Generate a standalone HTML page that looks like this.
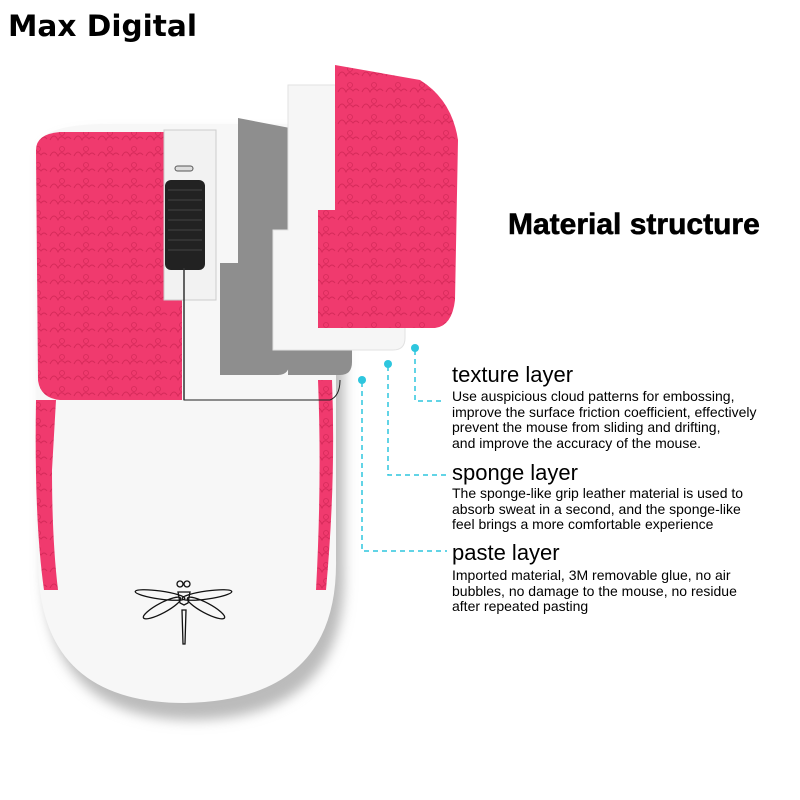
<!DOCTYPE html>
<html><head><meta charset="utf-8"><style>
body{margin:0;width:800px;height:800px;background:#fff;overflow:hidden;position:relative;font-family:"Liberation Sans",sans-serif}
.t{position:absolute;color:#000;white-space:nowrap}
</style></head><body>
<svg width="800" height="800" style="position:absolute;left:0;top:0">
<defs>
<filter id="sh" x="-20%" y="-20%" width="140%" height="140%"><feGaussianBlur stdDeviation="6"/></filter>
<pattern id="cl" width="24" height="16" patternUnits="userSpaceOnUse">
<rect width="24" height="16" fill="#f03a6e"/>
<path d="M2 12 q4 -8 8 0 q3 -6 7 -1 q3 -4 6 0" fill="none" stroke="#d62a5a" stroke-width="1"/>
<circle cx="14" cy="5" r="2.5" fill="none" stroke="#d62a5a" stroke-width="0.8"/>
</pattern>
</defs>
<path d="M40 150 Q40 128 100 126 L300 126 Q340 130 340 200 L340 560 Q345 710 190 712 Q40 712 40 560 Z" fill="#bbb" filter="url(#sh)" transform="translate(4,8)"/>
<path d="M36 150 Q36 126 100 124 L300 124 Q336 130 336 200 L336 560 Q338 700 185 703 Q38 703 38 560 Z" fill="#f7f7f7"/>
<path d="M36 150 Q36 134 60 132 L182 132 L182 400 L60 400 Q40 398 38 380 Z" fill="url(#cl)"/>
<path d="M36 400 L56 400 L52 470 Q52 540 58 590 L44 590 Q34 520 36 400Z" fill="url(#cl)"/>
<path d="M318 380 L332 380 Q336 480 326 590 L316 590 Q322 480 318 380Z" fill="url(#cl)"/>
<path d="M184 380 L184 400 L330 400 Q340 396 340 380" fill="none" stroke="#222" stroke-width="1"/>
<rect x="164" y="130" width="52" height="170" fill="#f2f2f2" stroke="#ccc"/>
<rect x="175" y="166" width="18" height="5" rx="2.5" fill="#ddd" stroke="#555" stroke-width="1"/>
<rect x="165" y="180" width="40" height="90" rx="6" fill="#222"/>
<g stroke="#444" stroke-width="1"><line x1="168" y1="190" x2="202" y2="190"/><line x1="168" y1="200" x2="202" y2="200"/><line x1="168" y1="210" x2="202" y2="210"/><line x1="168" y1="220" x2="202" y2="220"/><line x1="168" y1="230" x2="202" y2="230"/><line x1="168" y1="240" x2="202" y2="240"/><line x1="168" y1="250" x2="202" y2="250"/></g>
<line x1="184" y1="268" x2="184" y2="400" stroke="#333" stroke-width="1.5"/>
<path d="M238 118 L290 128 L290 360 Q290 375 278 375 L220 375 L220 263 L238 263 Z" fill="#8e8e8e"/>
<path d="M290 140 L352 140 L352 362 Q352 375 340 375 L288 375 Z" fill="#8e8e8e"/>
<path d="M288 85 L340 85 L405 92 L405 338 Q405 350 393 350 L273 350 L273 230 L288 230 Z" fill="#f6f6f6" stroke="#e2e2e2"/>
<path d="M335 65 L420 80 Q452 100 458 140 L455 300 Q452 326 435 328 L318 328 L318 210 L335 210 Z" fill="url(#cl)"/>
<g fill="none" stroke="#111" stroke-width="1.3">
<circle cx="180" cy="584" r="3"/><circle cx="187" cy="584" r="3"/>
<path d="M178 592 L190 592 L188 603 L184 605 L180 603 Z"/>
<ellipse cx="160" cy="595" rx="25" ry="4" transform="rotate(8 160 595)"/>
<ellipse cx="207" cy="595" rx="25" ry="4" transform="rotate(-8 207 595)"/>
<ellipse cx="162" cy="608" rx="21" ry="5" transform="rotate(-28 162 608)"/>
<ellipse cx="206" cy="608" rx="21" ry="5" transform="rotate(28 206 608)"/>
<path d="M182 610 L186 610 L185 644 L183 644 Z"/>
</g>
<g stroke="#2ec6de" stroke-width="1.5" stroke-dasharray="5,4" fill="none">
<path d="M415 350 L415 401 L442 401"/>
<path d="M388 366 L388 475 L447 475"/>
<path d="M362 382 L362 551 L447 551"/>
</g>
<g fill="#2ec6de"><circle cx="415" cy="348" r="4"/><circle cx="388" cy="364" r="4"/><circle cx="362" cy="380" r="4"/></g>
</svg>
<div class="t" style="left:8px;top:9px;font-family:'DejaVu Sans',sans-serif;font-weight:bold;font-size:29px;transform:scaleX(1.02);transform-origin:left">Max Digital</div>
<div class="t" style="left:508px;top:208px;font-weight:bold;font-size:30px;-webkit-text-stroke:0.6px #000">Material structure</div>
<div class="t" style="left:452px;top:362px;font-size:22px">texture layer</div>
<div class="t" style="left:452px;top:389px;font-size:14px;line-height:15.5px">Use auspicious cloud patterns for embossing,<br>improve the surface friction coefficient, effectively<br>prevent the mouse from sliding and drifting,<br>and improve the accuracy of the mouse.</div>
<div class="t" style="left:452px;top:460px;font-size:22px">sponge layer</div>
<div class="t" style="left:452px;top:486px;font-size:14px;line-height:15.5px">The sponge-like grip leather material is used to<br>absorb sweat in a second, and the sponge-like<br>feel brings a more comfortable experience</div>
<div class="t" style="left:452px;top:540px;font-size:22px">paste layer</div>
<div class="t" style="left:452px;top:568px;font-size:14px;line-height:15.5px">Imported material, 3M removable glue, no air<br>bubbles, no damage to the mouse, no residue<br>after repeated pasting</div>
</body></html>
